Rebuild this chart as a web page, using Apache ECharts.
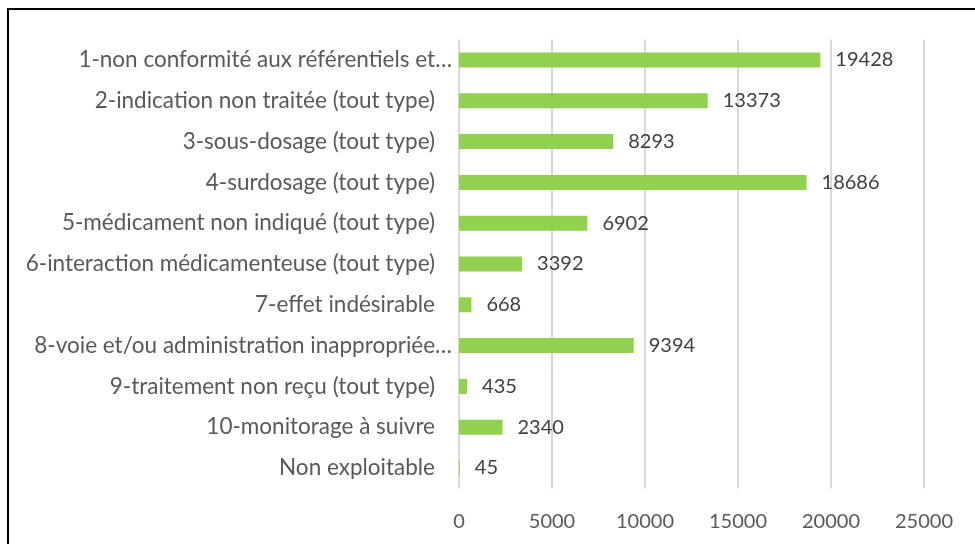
<!DOCTYPE html>
<html><head><meta charset="utf-8">
<script src="https://cdn.jsdelivr.net/npm/echarts@6/dist/echarts.min.js"></script>
<style>html,body{margin:0;padding:0;background:#fff}#c{width:975px;height:544px}</style>
</head><body><div id="c"></div>
<script>
const categories = [
  "1-non conformité aux référentiels et…",
  "2-indication non traitée (tout type)",
  "3-sous-dosage (tout type)",
  "4-surdosage (tout type)",
  "5-médicament non indiqué (tout type)",
  "6-interaction médicamenteuse (tout type)",
  "7-effet indésirable",
  "8-voie et/ou administration inappropriée…",
  "9-traitement non reçu (tout type)",
  "10-monitorage à suivre",
  "Non exploitable"
];
const values = [19428, 13373, 8293, 18686, 6902, 3392, 668, 9394, 435, 2340, 45];
const axisMin = 0, axisMax = 25000, axisInterval = 5000;

const chart = echarts.init(document.getElementById('c'), null, {renderer:'canvas'});
const font = 'Lato, "Open Sans", sans-serif';
chart.setOption({
  animation:false,
  graphic:[{type:'rect', shape:{x:8,y:9,width:1000,height:600}, style:{fill:'none',stroke:'#000',lineWidth:2}, z:100}],
  grid:{left:459, right:51, top:39.6, bottom:55.6, containLabel:false},
  xAxis:{type:'value', min:axisMin, max:axisMax, interval:axisInterval,
    axisLine:{show:false}, axisTick:{show:false},
    splitLine:{lineStyle:{color:'#d9d9d9', width:2}},
    axisLabel:{color:'#595959', fontSize:20, fontFamily:font, margin:23, formatter: v => String(v)}},
  yAxis:{type:'category', inverse:true, data:categories,
    axisLine:{show:false}, axisTick:{show:false},
    axisLabel:{color:'#595959', fontSize:22.5, fontFamily:font, margin:7,
      formatter: v => v.endsWith('…') ? v : v + '{s| }',
      rich:{s:{width:17, fontSize:22.5, fontFamily:font}}}},
  series:[{type:'bar', data:values, barWidth:15, itemStyle:{color:'#92D050'},
    label:{show:true, position:'right', distance:15, color:'#404040', fontSize:20, fontFamily:font}}]
});
</script></body></html>
